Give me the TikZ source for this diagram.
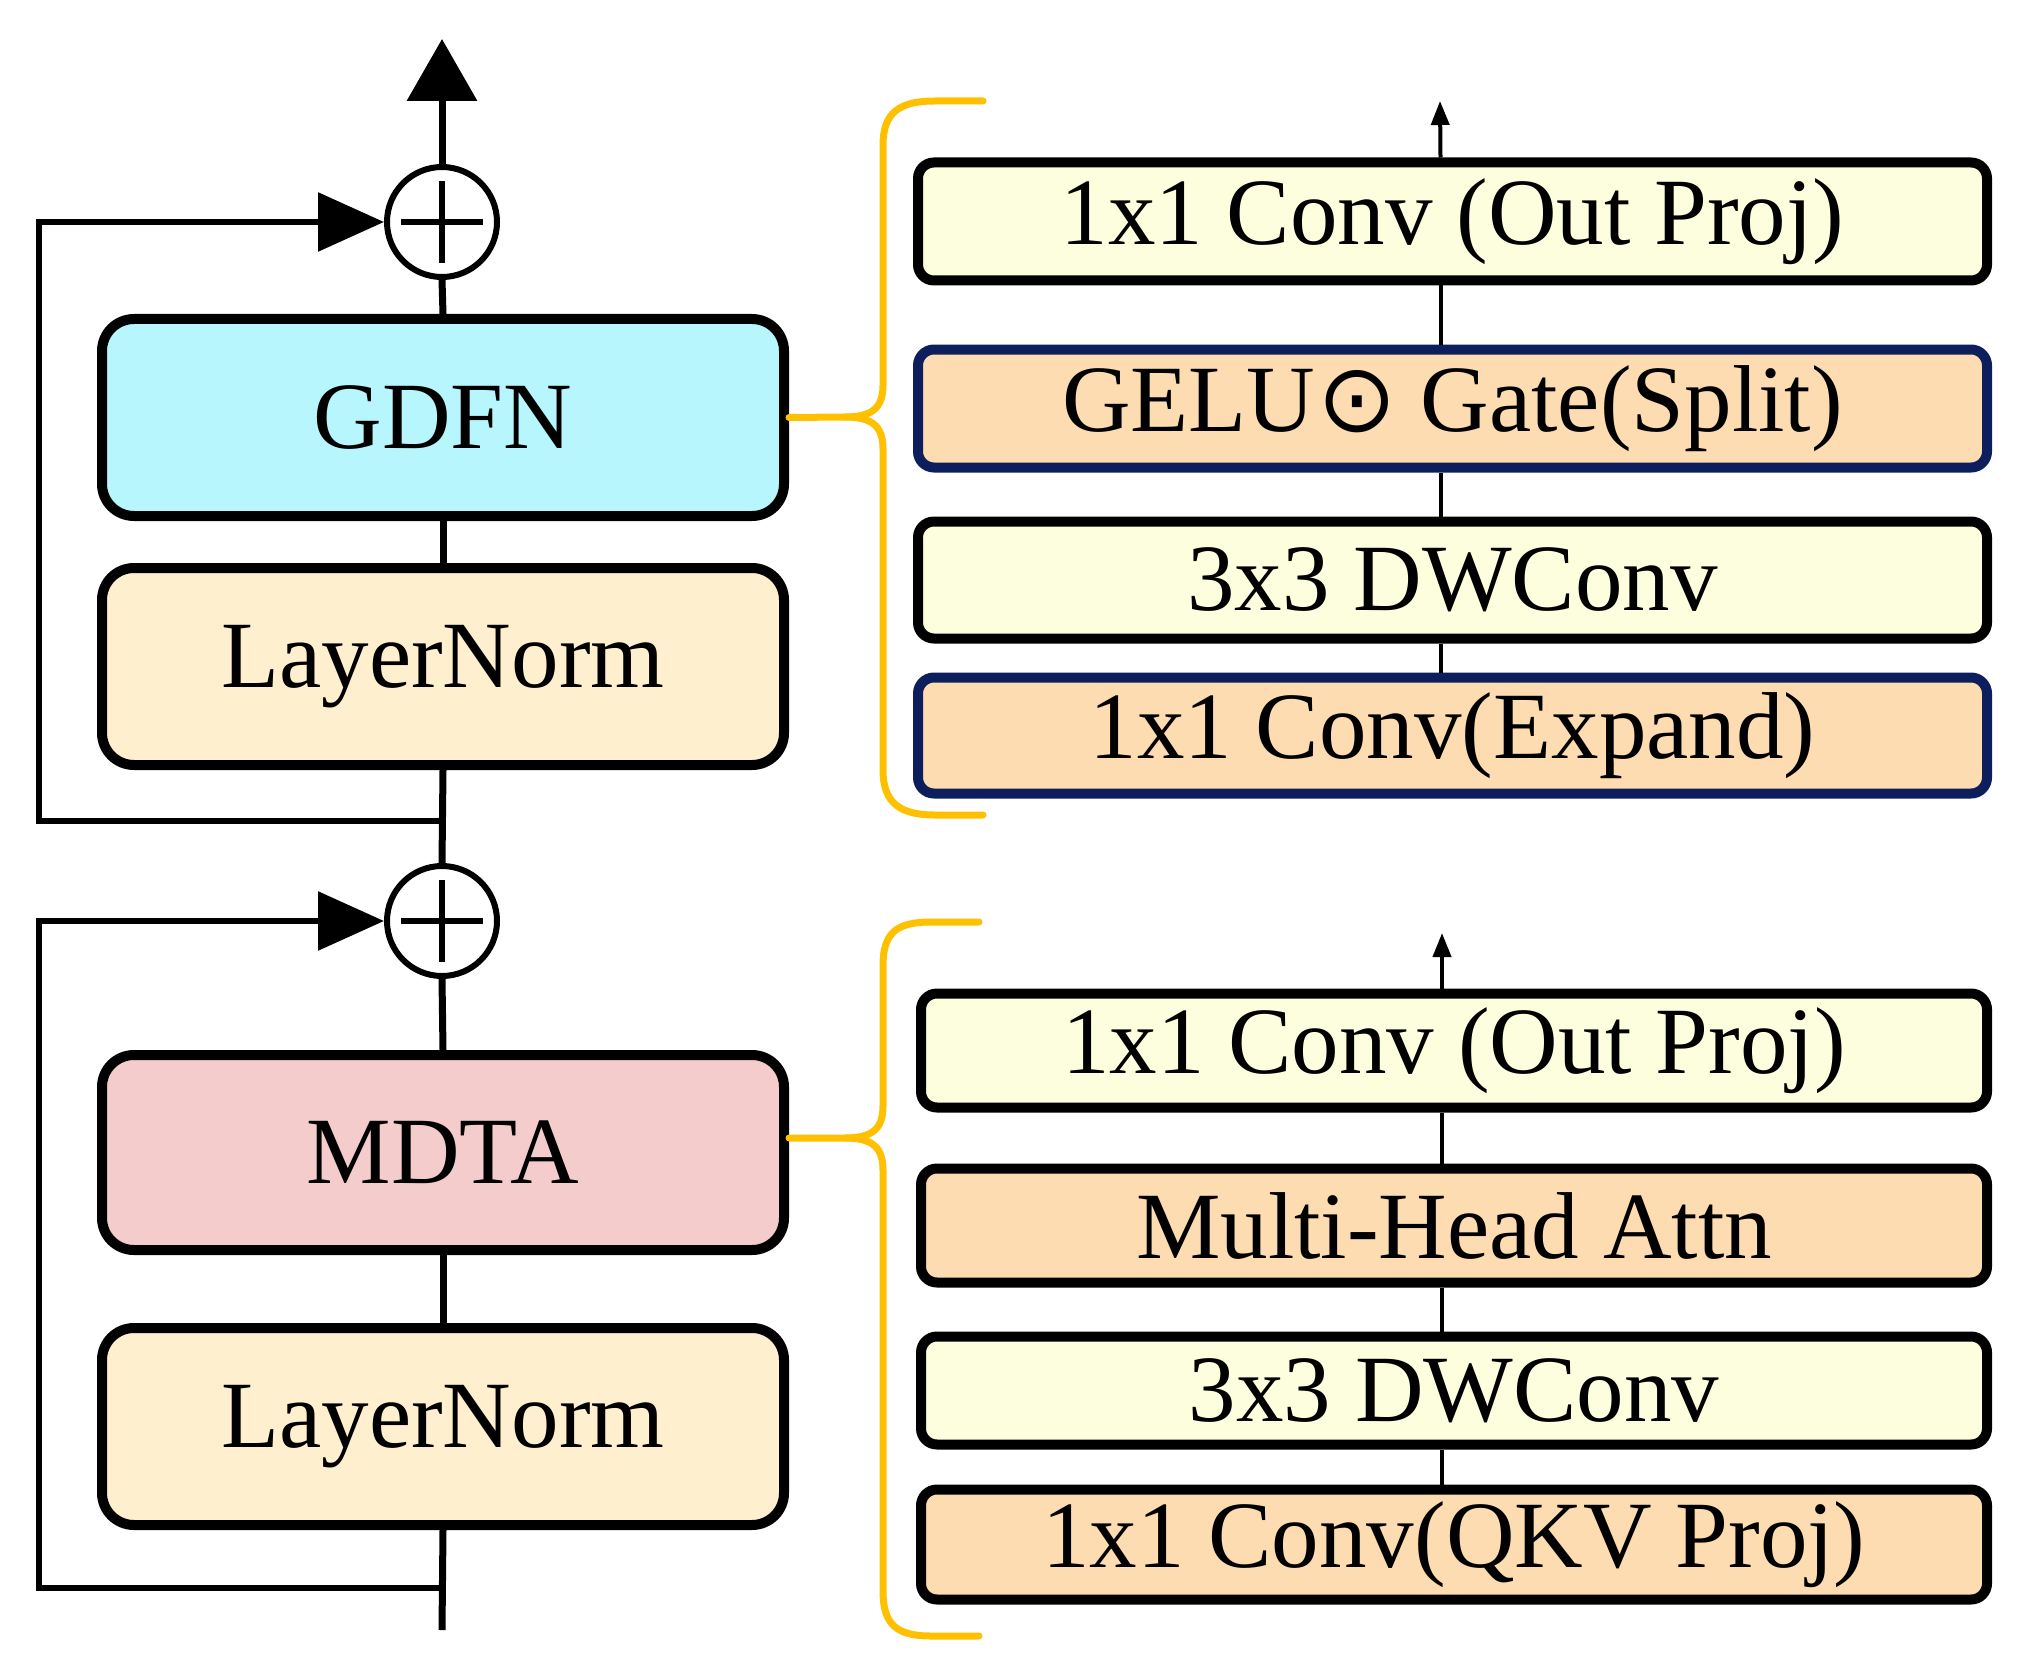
\documentclass[tikz,border=0pt]{standalone}
\usepackage{fontspec}
\setmainfont{Liberation Serif}
\newfontfamily\symfont{DejaVu Sans}
\usetikzlibrary{arrows.meta,calc}
\definecolor{cgdfn}{HTML}{B8F6FE}
\definecolor{cln}{HTML}{FEF0CF}
\definecolor{cmdta}{HTML}{F5CCCC}
\definecolor{cpale}{HTML}{FCFEDD}
\definecolor{cpeach}{HTML}{FCDCB0}
\definecolor{cnavy}{HTML}{0C1E5B}
\definecolor{cbrace}{HTML}{FFC000}
\begin{document}
\begin{tikzpicture}[x=1pt,y=-1pt,
  bigbox/.style={draw=black, line width=10pt, rounded corners=32pt,
    minimum width=682pt, minimum height=197pt, inner sep=0pt,
    font=\fontsize{95}{100}\selectfont},
  smallbox/.style={draw=black, line width=10pt, rounded corners=16pt,
    minimum width=1069pt, minimum height=116pt, inner sep=0pt,
    font=\fontsize{95}{100}\selectfont},
  navybox/.style={smallbox, draw=cnavy},
  plusnode/.style={circle, draw=black, fill=white, line width=6pt,
    minimum size=110pt, inner sep=0pt},
  mainline/.style={line width=7pt, draw=black},
  skipline/.style={line width=6pt, draw=black, line join=miter},
  thinline/.style={line width=4pt, draw=black},
  brace/.style={line width=7pt, draw=cbrace, line cap=round}
]
\useasboundingbox (0,0) rectangle (2028,1677);

% ---------- left column ----------
\node[bigbox, fill=cgdfn] (gdfn) at (443,417.5) {GDFN};
\node[bigbox, fill=cln] (ln1) at (443,666.5) {LayerNorm};
\node[bigbox, fill=cmdta, minimum height=195pt] (mdta) at (443,1152.5) {MDTA};
\node[bigbox, fill=cln] (ln2) at (443,1426.5) {LayerNorm};
\node[plusnode] (plus1) at (442,222) {};
\node[plusnode] (plus2) at (442,921) {};
\foreach \p in {plus1,plus2}{
  \draw[line width=6pt] ($(\p.center)+(-41,0)$) -- ($(\p.center)+(41,0)$);
  \draw[line width=6pt] ($(\p.center)+(0,-41)$) -- ($(\p.center)+(0,41)$);
}
\coordinate (in) at (442,1630);
\coordinate (out) at (442,39);
\coordinate (j1) at (442,821);
\coordinate (j2) at (442,1588);
\coordinate (c1) at (39,821);
\coordinate (c2) at (39,1588);

\draw[mainline] (in) -- (ln2.south);
\draw[mainline] (ln2.north) -- (mdta.south);
\draw[mainline] (mdta.north) -- (plus2.south);
\draw[mainline] (plus2.north) -- (ln1.south);
\draw[mainline] (ln1.north) -- (gdfn.south);
\draw[mainline] (gdfn.north) -- (plus1.south);
\draw[mainline, -{Triangle[width=69pt,length=62pt]}] (plus1.north) -- (out);

\draw[skipline, -{Triangle[width=58pt,length=66pt]}] (j1) -- (c1) |- (plus1.west);
\draw[skipline, -{Triangle[width=58pt,length=66pt]}] (j2) -- (c2) |- (plus2.west);

% ---------- right top group ----------
\node[smallbox, fill=cpale, minimum height=118pt] (op1) at (1452.5,221.5) {1x1 Conv (Out Proj)};
\node[navybox, fill=cpeach, minimum height=118pt] (gelu) at (1452.5,408.5) {GELU\kern2pt{\symfont ⊙} Gate(Split)};
\node[smallbox, fill=cpale, minimum height=117pt] (dw1) at (1452.5,580) {3x3 DWConv};
\node[navybox, fill=cpeach, minimum height=116pt] (exp) at (1452.5,735.5) {1x1 Conv(Expand)};
\coordinate (o1) at (1440,101);
\draw[thinline] ([xshift=-12pt]exp.north) -- ([xshift=-12pt]dw1.south);
\draw[thinline] ([xshift=-12pt]dw1.north) -- ([xshift=-12pt]gelu.south);
\draw[thinline] ([xshift=-12pt]gelu.north) -- ([xshift=-12pt]op1.south);
\draw[thinline, -{Triangle[width=18pt,length=24pt]}] ([xshift=-12pt]op1.north) -- (o1);

% ---------- right bottom group ----------
\node[smallbox, fill=cpale, minimum width=1066pt, minimum height=114pt] (op2) at (1454,1050.5) {1x1 Conv (Out Proj)};
\node[smallbox, fill=cpeach, minimum width=1066pt, minimum height=114pt] (mha) at (1454,1225.5) {Multi-Head Attn};
\node[smallbox, fill=cpale, minimum width=1066pt, minimum height=108pt] (dw2) at (1454,1390.5) {3x3 DWConv};
\node[smallbox, fill=cpeach, minimum width=1066pt, minimum height=110pt] (qkv) at (1454,1544.5) {1x1 Conv(QKV Proj)};
\coordinate (o2) at (1442,933);
\draw[thinline] ([xshift=-12pt]qkv.north) -- ([xshift=-12pt]dw2.south);
\draw[thinline] ([xshift=-12pt]dw2.north) -- ([xshift=-12pt]mha.south);
\draw[thinline] ([xshift=-12pt]mha.north) -- ([xshift=-12pt]op2.south);
\draw[thinline, -{Triangle[width=18pt,length=24pt]}] ([xshift=-12pt]op2.north) -- (o2);

% ---------- braces ----------
\draw[brace] (983,101) -- (935,101) .. controls (900,101) and (883,112) .. (883,145)
  -- (883,385) .. controls (883,408) and (872,417) .. (845,417) -- (gdfn.east);
\draw[brace] (845,417) .. controls (872,417) and (883,426) .. (883,449)
  -- (883,770) .. controls (883,803) and (900,815) .. (935,815) -- (983,815);

\draw[brace] (979,922) -- (931,922) .. controls (896,922) and (883,933) .. (883,966)
  -- (883,1106) .. controls (883,1129) and (872,1138) .. (845,1138) -- (mdta.east |- 0,1138);
\draw[brace] (845,1138) .. controls (872,1138) and (883,1147) .. (883,1170)
  -- (883,1591) .. controls (883,1624) and (896,1636) .. (931,1636) -- (979,1636);
\end{tikzpicture}
\end{document}
